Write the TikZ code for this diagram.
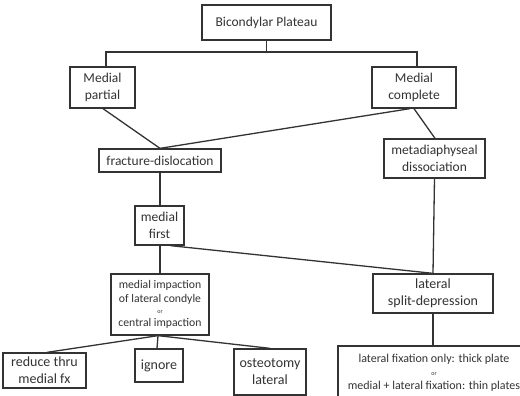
\documentclass[tikz,border=0pt]{standalone}
\usepackage{fontspec}
\setmainfont{Carlito}
\definecolor{ink}{HTML}{333333}
\newcommand{\fa}{\fontsize{13.5}{16.5}\selectfont}
\newcommand{\fb}{\fontsize{11.7}{13.5}\selectfont}
\newcommand{\fc}{\fontsize{12}{15}\selectfont}
\newcommand{\tinyor}{{\fontsize{6}{7}\selectfont or}}
\begin{document}
\begin{tikzpicture}[x=1pt,y=-1pt,
  box/.style={draw=ink,line width=1.3pt,fill=white,inner sep=0pt,align=center,text=ink,font=\fa},
  conn/.style={draw=ink,line width=1.3pt}]
\useasboundingbox (0,0) rectangle (520,396);
\clip (0,0) rectangle (520,396);
\node[box,minimum width=129pt,minimum height=35pt] (top) at (266.5,22.5) {Bicondylar Plateau};
\node[box,minimum width=65pt,minimum height=41pt] (mp) at (102.5,87.5) {Medial\\partial};
\node[box,minimum width=84pt,minimum height=41pt] (mc) at (414,87.5) {Medial\\complete};
\node[box,minimum width=122pt,minimum height=23pt] (fd) at (160,160.5) {fracture-dislocation};
\node[box,minimum width=101pt,minimum height=39pt] (md) at (434.5,158.5) {metadiaphyseal\\dissociation};
\node[box,minimum width=49pt,minimum height=39pt] (mf) at (159.5,225.5) {medial\\first};
\node[box,minimum width=98pt,minimum height=61pt,font=\fb] (mi) at (160,304.5) {medial impaction\\of lateral condyle\\[-2pt]\tinyor\\[-1pt]central impaction};
\node[box,minimum width=120pt,minimum height=39pt,font=\fontsize{14}{17}\selectfont] (ls) at (433,293.5) {lateral\\split-depression};
\node[box,minimum width=83pt,minimum height=35pt,font=\fontsize{14}{17}\selectfont] (rt) at (44.5,370.5) {reduce thru\\medial fx};
\node[box,minimum width=48pt,minimum height=33pt,font=\fontsize{14}{17}\selectfont] (ig) at (159,365.5) {ignore};
\node[box,minimum width=72pt,minimum height=46pt,font=\fontsize{14}{17}\selectfont] (os) at (270,372) {osteotomy\\lateral};
\node[box,minimum width=192pt,minimum height=54pt,font=\fc] (fx) at (434,373) {lateral fixation only: thick plate\\[-2pt]\tinyor\\[-1pt]medial + lateral fixation: thin plates};
% connectors
\coordinate (bl) at (106,52);
\coordinate (br) at (417,52);
\coordinate (bm) at (266.5,52);
\draw[conn] (top.south) -- (bm);
\draw[conn] (106,67) -- (bl) -- (br) -- (417,67);
\draw[conn] ([xshift=0.5pt]mp.south) -- (fd.north);
\draw[conn] ([xshift=-4pt]mc.south) -- (fd.north);
\draw[conn] (mc.south) -- ([xshift=0.5pt]md.north);
\draw[conn] (fd.south) -- ([xshift=0.5pt]mf.north);
\draw[conn] (md.south) -- (ls.north);
\draw[conn] ([xshift=11pt]mf.south) -- (ls.north);
\draw[conn] ([xshift=0.5pt]mf.south) -- (mi.north);
\draw[conn] ([xshift=-2pt]mi.south) -- ([xshift=2.5pt]rt.north);
\draw[conn] ([xshift=-2pt]mi.south) -- ([xshift=-2pt]ig.north);
\draw[conn] ([xshift=-2pt]mi.south) -- (os.north);
\draw[conn] (ls.south) -- ([xshift=-1pt]fx.north);
\end{tikzpicture}
\end{document}
